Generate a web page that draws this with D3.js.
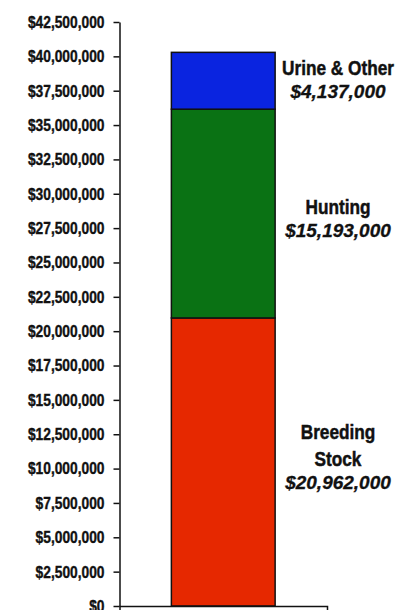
<!DOCTYPE html>
<html>
<head>
<meta charset="utf-8">
<script src="https://cdn.jsdelivr.net/npm/d3@7"></script>
<style>
  body { margin: 0; background: #fff; }
  .axis path, .axis line { stroke: #111; stroke-width: 1.5; }
  .axis text { font-family: "Liberation Sans", Arial, sans-serif; font-weight: bold; font-size: 16.8px; fill: #111; stroke: #111; stroke-width: 0.4; }
  .name { font-family: "Liberation Sans", Arial, sans-serif; font-weight: bold; font-size: 21px; fill: #111; stroke: #111; stroke-width: 0.5; }
  .value { font-family: "Liberation Sans", Arial, sans-serif; font-weight: bold; font-style: italic; font-size: 19px; fill: #111; stroke: #111; stroke-width: 0.3; }
</style>
</head>
<body>
<svg id="chart" width="408" height="610"></svg>
<script>
// stacked from the bottom up
var segments = ["Breeding Stock", "Hunting", "Urine & Other"];
var nameLines = [["Breeding", "Stock"], ["Hunting"], ["Urine & Other"]];
var values = [20962000, 15193000, 4137000];
var colors = ["#e62800", "#0a7214", "#0a24e0"];
var yTicks = d3.range(0, 42500001, 2500000);

var svg = d3.select("#chart");
var plotLeft = 119.5, plotRight = 327, plotTop = 22, plotBottom = 606;
var narrow = 0.82; // squeeze for the condensed face

var x = d3.scaleBand().domain(["Total"]).range([plotLeft, plotRight])
		.paddingInner(0.5).paddingOuter(0.25);
var y = d3.scaleLinear().domain([0, 42500000]).range([plotBottom, plotTop]);

var fmt = d3.format(",");

// running totals for the stack
var stack = [];
var base = 0;
for(var i = 0; i < values.length; i++){
	stack.push({name: segments[i], lines: nameLines[i], value: values[i], y0: base, y1: base + values[i], color: colors[i]});
	base += values[i];
}

svg.append("g")
	.selectAll("rect")
	.data(stack)
	.enter().append("rect")
		.attr("x", x("Total"))
		.attr("width", x.bandwidth())
		.attr("y", function(d) { return y(d.y1); })
		.attr("height", function(d) { return y(d.y0) - y(d.y1); })
		.attr("fill", function(d) { return d.color; })
		.attr("stroke", "#111")
		.attr("stroke-width", 1.5);

var yAxis = svg.append("g")
	.attr("class", "axis")
	.attr("transform", "translate(" + plotLeft + ",0)")
	.call(d3.axisLeft(y)
		.tickValues(yTicks)
		.tickSizeInner(6)
		.tickSizeOuter(0)
		.tickPadding(9)
		.tickFormat(function(d) { return "$" + fmt(d); }));
yAxis.selectAll("text")
	.attr("x", -15 / narrow)
	.attr("transform", "scale(" + narrow + ",1)");

svg.append("g")
	.attr("class", "axis")
	.attr("transform", "translate(0," + plotBottom + ")")
	.call(d3.axisBottom(x)
		.tickSizeInner(0)
		.tickSizeOuter(6)
		.tickFormat(""));

// labels to the right of each segment
var labelX = 338;
var nudge = [-3.8, 6.6, 0];
var nameGap = 27, valueGap = 23;
stack.forEach(function(d, i){
	var mid = y((d.y0 + d.y1) / 2);
	var blockH = (d.lines.length - 1) * nameGap + valueGap;
	var first = mid - blockH / 2 + 5.8 + nudge[i];
	var g = svg.append("g");
	d.lines.forEach(function(line, k){
		g.append("text")
			.attr("class", "name")
			.attr("transform", "translate(" + labelX + "," + (first + k * nameGap) + ") scale(" + narrow + ",1)")
			.attr("text-anchor", "middle")
			.text(line);
	});
	g.append("text")
		.attr("class", "value")
		.attr("x", labelX)
		.attr("y", first + (d.lines.length - 1) * nameGap + valueGap)
		.attr("text-anchor", "middle")
		.text("$" + fmt(d.value));
});
</script>
</body>
</html>
